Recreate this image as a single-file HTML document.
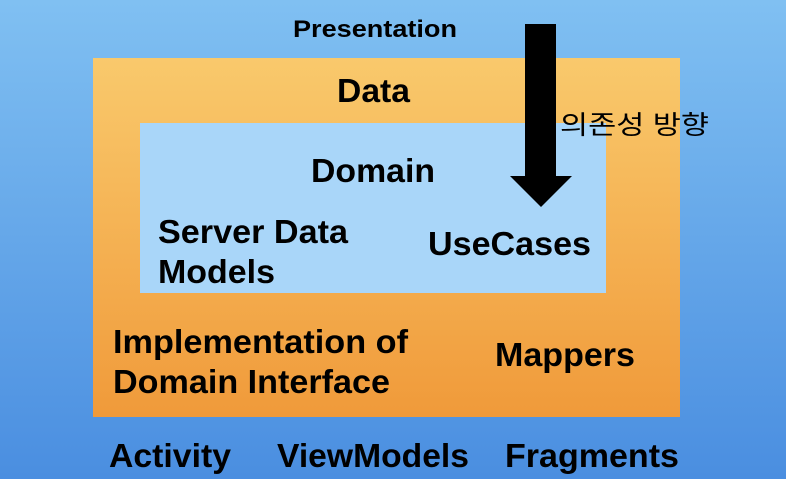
<!DOCTYPE html>
<html><head><meta charset="utf-8"><style>
html,body{margin:0;padding:0;width:786px;height:479px;overflow:hidden}
</style></head><body>
<svg width="786" height="479" xmlns="http://www.w3.org/2000/svg">
<defs>
<linearGradient id="bg" x1="0" y1="0" x2="0" y2="1"><stop offset="0" stop-color="#80c0f2"/><stop offset="1" stop-color="#4a8ee0"/></linearGradient>
<linearGradient id="or" x1="0" y1="0" x2="0" y2="1"><stop offset="0" stop-color="#f9c96c"/><stop offset="1" stop-color="#f09a3a"/></linearGradient>
</defs>
<rect width="786" height="479" fill="url(#bg)"/>
<rect x="93" y="58" width="587" height="359" fill="url(#or)"/>
<rect x="140" y="123" width="466" height="170" fill="#a9d6f9"/>
<g font-family="Liberation Sans, sans-serif" font-weight="bold" fill="#000">
<text x="293" y="37" font-size="24" textLength="164" lengthAdjust="spacingAndGlyphs">Presentation</text>
<text x="337" y="102" font-size="33" textLength="73" lengthAdjust="spacingAndGlyphs">Data</text>
<text x="311" y="182" font-size="33" textLength="124" lengthAdjust="spacingAndGlyphs">Domain</text>
<text x="158" y="243" font-size="33" textLength="190" lengthAdjust="spacingAndGlyphs">Server Data</text>
<text x="158" y="283" font-size="33" textLength="117" lengthAdjust="spacingAndGlyphs">Models</text>
<text x="428" y="255" font-size="33" textLength="163" lengthAdjust="spacingAndGlyphs">UseCases</text>
<text x="113" y="353" font-size="33" textLength="295" lengthAdjust="spacingAndGlyphs">Implementation of</text>
<text x="113" y="393" font-size="33" textLength="277" lengthAdjust="spacingAndGlyphs">Domain Interface</text>
<text x="495" y="366" font-size="33" textLength="140" lengthAdjust="spacingAndGlyphs">Mappers</text>
<text x="109" y="467" font-size="33" textLength="122" lengthAdjust="spacingAndGlyphs">Activity</text>
<text x="277" y="467" font-size="33" textLength="192" lengthAdjust="spacingAndGlyphs">ViewModels</text>
<text x="505" y="467" font-size="33" textLength="174" lengthAdjust="spacingAndGlyphs">Fragments</text>
</g>
<rect x="525" y="24" width="31" height="153" fill="#000"/>
<polygon points="510,176 572,176 541,207" fill="#000"/>
<text x="560" y="134" font-family="Liberation Sans, Noto Sans CJK KR, sans-serif" font-size="26" fill="#000" textLength="149" lengthAdjust="spacingAndGlyphs">의존성 방향</text>
</svg>
</body></html>
